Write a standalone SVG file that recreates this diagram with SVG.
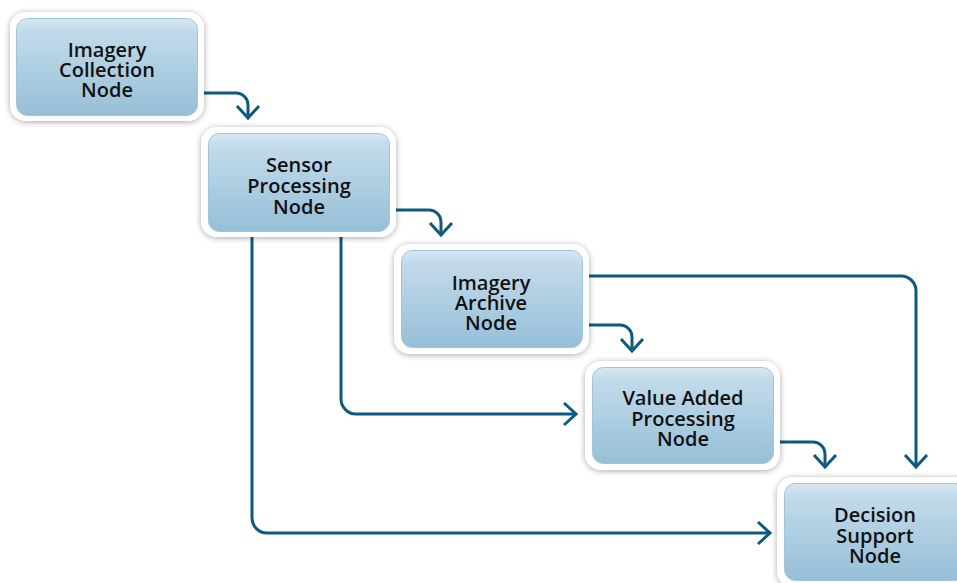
<svg xmlns="http://www.w3.org/2000/svg" width="957" height="583" viewBox="0 0 957 583">
<defs>
<linearGradient id="g" x1="0" y1="0" x2="0" y2="1">
<stop offset="0" stop-color="#d9e8f2"/>
<stop offset="0.12" stop-color="#c3dbeb"/>
<stop offset="1" stop-color="#96bfd7"/>
</linearGradient>
<filter id="sh" x="-20%" y="-20%" width="140%" height="140%">
<feGaussianBlur in="SourceAlpha" stdDeviation="3"/>
<feOffset dx="0" dy="1" result="b"/>
<feComponentTransfer><feFuncA type="linear" slope="0.35"/></feComponentTransfer>
<feMerge><feMergeNode/><feMergeNode in="SourceGraphic"/></feMerge>
</filter>
<marker id="ah" markerUnits="userSpaceOnUse" markerWidth="30" markerHeight="30" refX="0" refY="0" viewBox="-15 -15 30 30" orient="auto" overflow="visible">
<path d="M-12,-11 L0,0 L-12,11" fill="none" stroke="#0d5a7e" stroke-width="3" stroke-linejoin="miter"/>
</marker>
</defs>
<style>
.outer{fill:#ffffff;filter:url(#sh);}
.inner{fill:url(#g);stroke:#9fc5dc;stroke-width:1;}
.t{font-family:"Open Sans","Noto Sans",sans-serif;font-weight:600;font-size:20px;fill:#111;text-anchor:middle;}
.c{fill:none;stroke:#0d5a7e;stroke-width:3;marker-end:url(#ah);}
</style>
<rect width="957" height="583" fill="#ffffff"/>
<g id="connectors">
<path class="c" d="M203,93 H236 A12,12 0 0 1 248,105 V118"/>
<path class="c" d="M395,210 H429 A12,12 0 0 1 441,222 V235"/>
<path class="c" d="M587,325 H620 A12,12 0 0 1 632,337 V351"/>
<path class="c" d="M587,276 H901 A15,15 0 0 1 916,291 V467"/>
<path class="c" d="M778,442 H813 A12,12 0 0 1 825,454 V467"/>
<path class="c" d="M252,236 V518 A15,15 0 0 0 267,533 H770"/>
<path class="c" d="M341,236 V399 A15,15 0 0 0 356,414 H576"/>
</g>
<g id="imagery-collection">
<rect class="outer" x="10" y="12" width="194" height="109" rx="16"/>
<rect class="inner" x="16.5" y="18.5" width="181" height="97" rx="11"/>
<text class="t" x="107" y="56.5">Imagery</text>
<text class="t" x="107" y="77">Collection</text>
<text class="t" x="107" y="97">Node</text>
</g>
<g id="sensor-processing">
<rect class="outer" x="201" y="127" width="195" height="110" rx="16"/>
<rect class="inner" x="208.5" y="133.5" width="181" height="98" rx="11"/>
<text class="t" x="299" y="172">Sensor</text>
<text class="t" x="299" y="193">Processing</text>
<text class="t" x="299" y="213.5">Node</text>
</g>
<g id="imagery-archive">
<rect class="outer" x="394" y="244" width="195" height="110" rx="16"/>
<rect class="inner" x="401.5" y="250.5" width="181" height="97" rx="11"/>
<text class="t" x="491" y="289.5">Imagery</text>
<text class="t" x="491" y="309.5">Archive</text>
<text class="t" x="491" y="329.5">Node</text>
</g>
<g id="value-added">
<rect class="outer" x="585" y="361" width="195" height="109" rx="16"/>
<rect class="inner" x="592.5" y="367.5" width="181" height="96" rx="11"/>
<text class="t" x="683" y="404.5">Value Added</text>
<text class="t" x="683" y="425.5">Processing</text>
<text class="t" x="683" y="445.5">Node</text>
</g>
<g id="decision-support">
<rect class="outer" x="777" y="477" width="195" height="110" rx="16"/>
<rect class="inner" x="784.5" y="483.5" width="181" height="97" rx="11"/>
<text class="t" x="875" y="521.5">Decision</text>
<text class="t" x="875" y="542.5">Support</text>
<text class="t" x="875" y="562.5">Node</text>
</g>
</svg>
